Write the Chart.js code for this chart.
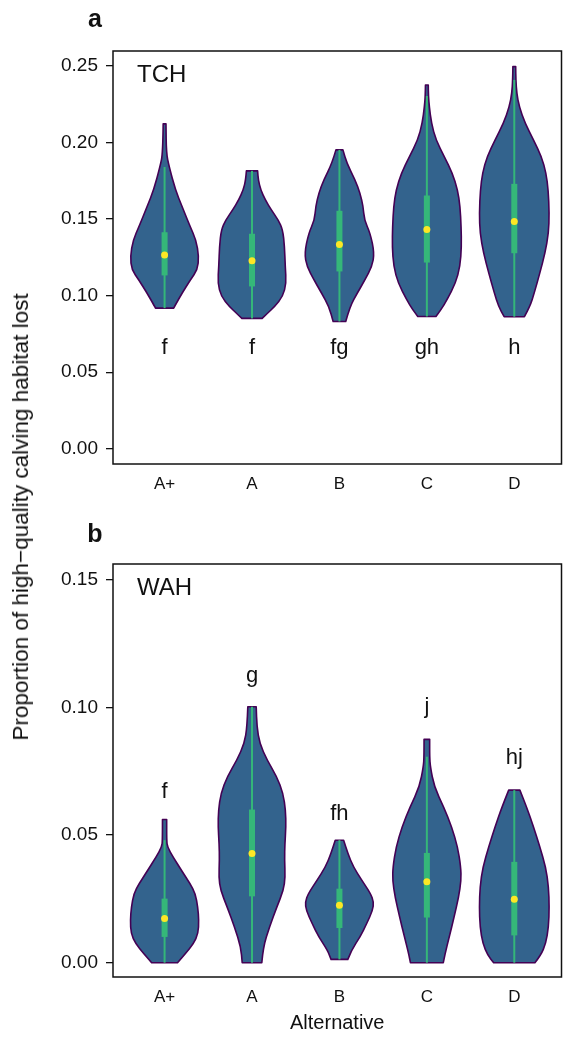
<!DOCTYPE html>
<html>
<head>
<meta charset="utf-8">
<script src="https://cdn.jsdelivr.net/npm/chart.js@4.4.0/dist/chart.umd.min.js"></script>
<style>
  body { margin: 0; background: #fff; width: 565px; height: 1046px; position: relative; overflow: hidden;
         font-family: "Liberation Sans", Arial, sans-serif; }
  canvas { position: absolute; left: 0; }
  #chartA { top: 0; }
  #chartB { top: 515px; }
  #ytitle { position: absolute; left: 21px; top: 517px; transform: translate(-50%, -50%) rotate(-90deg);
            white-space: nowrap; font-size: 22.5px; color: #111; }
</style>
</head>
<body>
<canvas id="chartA" width="565" height="500"></canvas>
<canvas id="chartB" width="565" height="531"></canvas>
<div id="ytitle">Proportion of high&#8722;quality calving habitat lost</div>
<script>
// categories (alternatives)
const categories = ['A+', 'A', 'B', 'C', 'D'];

// TCH panel: box stats
const tchMedian  = [0.1266, 0.1227, 0.1334, 0.1432, 0.1484];
const tchQ1      = [0.1132, 0.1060, 0.1158, 0.1216, 0.1277];
const tchQ3      = [0.1414, 0.1404, 0.1554, 0.1654, 0.1730];
const tchWhiskLo = [0.0918, 0.0851, 0.0831, 0.0864, 0.0862];
const tchWhiskHi = [0.1840, 0.1815, 0.1952, 0.2304, 0.2409];
const tchLetters = ['f', 'f', 'fg', 'gh', 'h'];
const tchLetterY = [0.062, 0.062, 0.062, 0.062, 0.062];
// violin outlines: [value, relative width]
const tchViolins = [
  [[0.0918,0.26],[0.0940,0.31],[0.1016,0.50],[0.1103,0.74],[0.1169,0.94],[0.1256,0.98],[0.1364,0.90],
   [0.1451,0.73],[0.1582,0.50],[0.1691,0.31],[0.1843,0.13],[0.1930,0.05],[0.2122,0.04]],
  [[0.0851,0.29],[0.0886,0.45],[0.0929,0.65],[0.0994,0.88],[0.1081,0.98],[0.1190,0.95],[0.1321,0.93],
   [0.1430,0.88],[0.1495,0.75],[0.1560,0.55],[0.1625,0.38],[0.1691,0.25],[0.1756,0.18],[0.1815,0.16]],
  [[0.0831,0.18],[0.0929,0.30],[0.1016,0.51],[0.1103,0.73],[0.1190,0.93],[0.1277,1.00],[0.1408,0.88],
   [0.1495,0.71],[0.1582,0.68],[0.1669,0.59],[0.1756,0.45],[0.1865,0.21],[0.1952,0.10]],
  [[0.0864,0.26],[0.0907,0.40],[0.0973,0.58],[0.1081,0.82],[0.1190,0.95],[0.1321,0.99],[0.1451,0.98],
   [0.1582,0.95],[0.1691,0.88],[0.1800,0.73],[0.1908,0.50],[0.2017,0.26],[0.2126,0.13],[0.2235,0.07],
   [0.2304,0.045],[0.2376,0.04]],
  [[0.0862,0.29],[0.0929,0.45],[0.1016,0.57],[0.1147,0.73],[0.1277,0.88],[0.1408,0.98],[0.1538,1.00],
   [0.1691,0.97],[0.1800,0.91],[0.1908,0.78],[0.2017,0.55],[0.2126,0.31],[0.2235,0.14],[0.2322,0.07],
   [0.2409,0.045],[0.2496,0.04]]
];
const tchTicks = [0, 0.05, 0.10, 0.15, 0.20, 0.25];

// WAH panel
const wahMedian  = [0.0173, 0.0428, 0.0225, 0.0317, 0.0249];
const wahQ1      = [0.0101, 0.0260, 0.0136, 0.0177, 0.0107];
const wahQ3      = [0.0251, 0.0600, 0.0290, 0.0430, 0.0395];
const wahWhiskLo = [0.0, 0.0, 0.0013, 0.0, 0.0];
const wahWhiskHi = [0.0480, 0.1003, 0.0480, 0.0807, 0.0676];
const wahLetters = ['f', 'g', 'fh', 'j', 'hj'];
const wahLetterY = [0.0644, 0.1101, 0.0559, 0.0980, 0.0778];
const wahViolins = [
  [[0.0,0.37],[0.0035,0.59],[0.0075,0.83],[0.0114,0.96],[0.0166,0.98],[0.0218,0.95],[0.0271,0.88],
   [0.0310,0.73],[0.0362,0.48],[0.0415,0.24],[0.0454,0.08],[0.0480,0.06],[0.0561,0.06]],
  [[0.0,0.28],[0.0061,0.32],[0.0140,0.50],[0.0218,0.71],[0.0284,0.90],[0.0336,0.95],[0.0402,0.93],
   [0.0467,0.94],[0.0532,0.97],[0.0598,0.96],[0.0663,0.89],[0.0729,0.71],[0.0794,0.43],[0.0859,0.22],
   [0.0925,0.14],[0.1003,0.12]],
  [[0.0013,0.24],[0.0048,0.34],[0.0101,0.59],[0.0153,0.78],[0.0205,0.95],[0.0238,0.98],[0.0271,0.89],
   [0.0323,0.64],[0.0375,0.40],[0.0428,0.24],[0.0480,0.12]],
  [[0.0,0.47],[0.0035,0.52],[0.0101,0.64],[0.0179,0.78],[0.0258,0.91],[0.0323,0.98],[0.0375,0.97],
   [0.0454,0.88],[0.0532,0.71],[0.0611,0.48],[0.0689,0.21],[0.0768,0.10],[0.0807,0.08],[0.0875,0.08]],
  [[0.0,0.59],[0.0029,0.76],[0.0075,0.90],[0.0140,0.98],[0.0218,1.00],[0.0297,0.98],[0.0375,0.90],
   [0.0454,0.73],[0.0532,0.55],[0.0611,0.35],[0.0676,0.16]]
];
const wahTicks = [0, 0.05, 0.10, 0.15];

const FONT = '"Liberation Sans", Arial, sans-serif';
const FILL = '#33638D', EDGE = '#440154', GREEN = '#35B779', YELLOW = '#FDE725';
const HALF_W = 0.4; // max half width of a violin in category units

// draw one side of the violin with smoothing through midpoints
function smoothSide(ctx, pts) {
  ctx.lineTo(pts[0][0], pts[0][1]);
  for (let i = 1; i < pts.length - 1; i++) {
    const mx = (pts[i][0] + pts[i + 1][0]) / 2, my = (pts[i][1] + pts[i + 1][1]) / 2;
    ctx.quadraticCurveTo(pts[i][0], pts[i][1], mx, my);
  }
  const last = pts[pts.length - 1];
  ctx.lineTo(last[0], last[1]);
}

const violinPlugin = {
  id: 'violins',
  beforeDatasetsDraw(chart) {
    const p = chart.options.plugins.violins;
    const { ctx, scales: { x, y } } = chart;
    ctx.save();
    p.violins.forEach((prof, i) => {
      const cx = i + 1;
      const right = prof.map(([v, w]) => [x.getPixelForValue(cx + w * HALF_W), y.getPixelForValue(v)]);
      const left = prof.map(([v, w]) => [x.getPixelForValue(cx - w * HALF_W), y.getPixelForValue(v)]).reverse();
      ctx.beginPath();
      ctx.moveTo(right[0][0], right[0][1]);
      smoothSide(ctx, right);
      smoothSide(ctx, left);
      ctx.closePath();
      ctx.fillStyle = FILL;
      ctx.fill();
      ctx.lineWidth = 1.6;
      ctx.strokeStyle = EDGE;
      ctx.lineJoin = 'round';
      ctx.stroke();

      const px = x.getPixelForValue(cx);
      // whisker
      ctx.beginPath();
      ctx.moveTo(px, y.getPixelForValue(p.lo[i]));
      ctx.lineTo(px, y.getPixelForValue(p.hi[i]));
      ctx.lineWidth = 2;
      ctx.strokeStyle = GREEN;
      ctx.stroke();
      // box
      const t = y.getPixelForValue(p.q3[i]), b = y.getPixelForValue(p.q1[i]);
      ctx.fillStyle = GREEN;
      ctx.fillRect(px - 3, t, 6, b - t);
    });
    ctx.restore();
  },
  afterDatasetsDraw(chart) {
    const p = chart.options.plugins.violins;
    const { ctx, chartArea: a, scales: { x, y } } = chart;
    ctx.save();
    // frame
    ctx.strokeStyle = '#111';
    ctx.lineWidth = 1.5;
    ctx.strokeRect(a.left, a.top, a.right - a.left, a.bottom - a.top);
    // significance letters
    ctx.fillStyle = '#111';
    ctx.font = '22px ' + FONT;
    ctx.textAlign = 'center';
    ctx.textBaseline = 'alphabetic';
    p.letters.forEach((s, i) => ctx.fillText(s, x.getPixelForValue(i + 1), y.getPixelForValue(p.letterY[i])));
    // herd name
    ctx.textAlign = 'left';
    ctx.textBaseline = 'middle';
    ctx.font = '24px ' + FONT;
    ctx.fillText(p.name, a.left + 24, a.top + 24);
    // panel letter
    ctx.font = 'bold 25px ' + FONT;
    ctx.textAlign = 'center';
    ctx.textBaseline = 'alphabetic';
    ctx.fillText(p.panel, 95, 27);
    ctx.restore();
  }
};

function makeChart(id, cfg) {
  return new Chart(document.getElementById(id), {
    type: 'scatter',
    data: {
      datasets: [{
        data: cfg.median.map((m, i) => ({ x: i + 1, y: m })),
        pointRadius: 3.5,
        pointBackgroundColor: YELLOW,
        pointBorderWidth: 0,
        pointHoverRadius: 3.5
      }]
    },
    options: {
      responsive: false,
      animation: false,
      events: [],
      layout: { padding: cfg.padding },
      plugins: {
        legend: { display: false },
        tooltip: { enabled: false },
        violins: cfg
      },
      scales: {
        x: {
          type: 'linear',
          min: 0.41, max: 5.54,
          afterBuildTicks: s => { s.ticks = categories.map((c, i) => ({ value: i + 1 })); },
          afterFit: s => { s.height = cfg.xHeight; },
          grid: { display: false, drawTicks: false },
          border: { display: false },
          ticks: {
            autoSkip: false, maxRotation: 0, padding: 10, color: '#111',
            font: { size: 17, family: FONT },
            callback: (v, i) => categories[i]
          },
          title: {
            display: cfg.showTitle, text: 'Alternative', color: '#111',
            font: { size: 20, family: FONT }, padding: { top: 0, bottom: 11 }
          }
        },
        y: {
          min: cfg.yMin, max: cfg.yMax,
          afterBuildTicks: s => { s.ticks = cfg.ticks.map(v => ({ value: v })); },
          afterFit: s => { s.width = 73; },
          grid: { drawOnChartArea: false, drawTicks: true, tickLength: 7, color: '#111', lineWidth: 1.3 },
          border: { display: false },
          ticks: {
            padding: 8, color: '#111',
            font: { size: 19, family: FONT },
            callback: v => v.toFixed(2)
          }
        }
      }
    },
    plugins: [violinPlugin]
  });
}

makeChart('chartA', {
  panel: 'a', name: 'TCH',
  violins: tchViolins, median: tchMedian, q1: tchQ1, q3: tchQ3, lo: tchWhiskLo, hi: tchWhiskHi,
  letters: tchLetters, letterY: tchLetterY, ticks: tchTicks,
  yMin: -0.010, yMax: 0.2598,
  padding: { left: 40, right: 2, top: 51, bottom: 6 }, xHeight: 30, showTitle: false
});

makeChart('chartB', {
  panel: 'b', name: 'WAH',
  violins: wahViolins, median: wahMedian, q1: wahQ1, q3: wahQ3, lo: wahWhiskLo, hi: wahWhiskHi,
  letters: wahLetters, letterY: wahLetterY, ticks: wahTicks,
  yMin: -0.0056, yMax: 0.1562,
  padding: { left: 40, right: 2, top: 49, bottom: 0 }, xHeight: 69, showTitle: true
});
</script>
</body>
</html>
